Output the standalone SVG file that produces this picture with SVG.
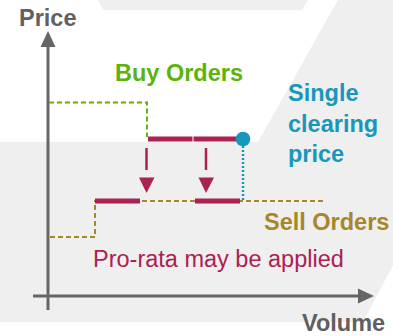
<svg xmlns="http://www.w3.org/2000/svg" width="393" height="336" viewBox="0 0 393 336">
<defs>
<style>
text{font-family:"Liberation Sans",Arial,sans-serif;font-size:23.5px}
.b{font-weight:bold}
.ax{stroke:#666;stroke-width:3;fill:none}
.bar{stroke:#ab2152;stroke-width:5;fill:none}
.arr{stroke:#ab2152;stroke-width:2.5;fill:none}
.head{fill:#ab2152}
</style>
</defs>
<g id="background">
<polygon points="98,0 308,0 302,10 103,10" fill="#efefef"/>
<polygon points="0,142 258,142 338,0 393,0 393,265 363,322 0,322" fill="#efefef"/>
</g>
<g id="axes">
<line class="ax" x1="48" y1="45" x2="48" y2="310"/>
<polygon points="48,31 40.5,47 55.5,47" fill="#666"/>
<line class="ax" x1="33" y1="296" x2="359" y2="296"/>
<polygon points="374,296 358,288.5 358,303.5" fill="#666"/>
<text id="price-label" class="b" x="19" y="26" fill="#606060">Price</text>
<text id="volume-label" class="b" x="302" y="331" fill="#606060">Volume</text>
</g>
<g id="connectors">
<polyline id="buy-curve" points="49,102.5 147,102.5 147,137" fill="none" stroke="#5cb30c" stroke-width="2" stroke-dasharray="5,3"/>
<polyline id="sell-curve" points="50,237 95,237 95,201 323,201" fill="none" stroke="#a8862a" stroke-width="2" stroke-dasharray="5,3"/>
<line id="clearing-drop" x1="243" y1="146" x2="243" y2="200" stroke="#1797bb" stroke-width="2.5" stroke-dasharray="2,2"/>
<line class="bar" x1="148" y1="139" x2="192.5" y2="139"/>
<line class="bar" x1="193.5" y1="139" x2="241" y2="139"/>
<line class="bar" x1="95" y1="201" x2="140" y2="201"/>
<line class="bar" x1="195" y1="201" x2="240" y2="201"/>
<line class="arr" x1="146.5" y1="148" x2="146.5" y2="170"/>
<polygon class="head" points="139,177.5 154.5,177.5 146.5,193"/>
<line class="arr" x1="206" y1="148" x2="206" y2="170"/>
<polygon class="head" points="198.5,177.5 214,177.5 206,193"/>
</g>
<g id="clearing-point">
<circle cx="243" cy="139" r="7.3" fill="#1797bb"/>
</g>
<g id="buy-orders">
<text class="b" x="115" y="81" fill="#5cb30c">Buy Orders</text>
</g>
<g id="single-clearing-price">
<text class="b" fill="#1797bb"><tspan x="288" y="101">Single</tspan><tspan x="288" y="132">clearing</tspan><tspan x="288" y="162">price</tspan></text>
</g>
<g id="sell-orders">
<text class="b" x="264" y="230" fill="#a8862a">Sell Orders</text>
</g>
<g id="pro-rata">
<text x="93" y="267" fill="#ab2152">Pro-rata may be applied</text>
</g>
</svg>
